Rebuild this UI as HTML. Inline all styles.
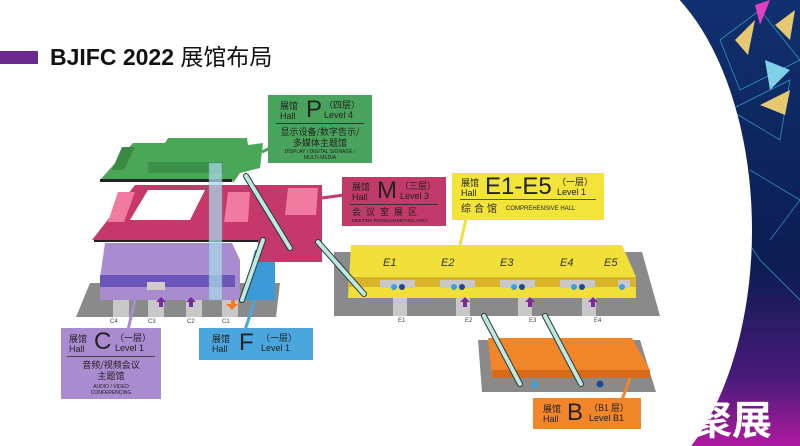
<!DOCTYPE html>
<html style="overflow:hidden;width:800px;height:446px"><head><meta charset="utf-8">
<style>
html,body{margin:0;width:800px;height:446px;overflow:hidden}
body{position:relative;background:#0b1a4a;font-family:"Liberation Sans","Noto Sans CJK SC",sans-serif}
.lab{position:absolute;color:#222;box-sizing:border-box;overflow:hidden}
.cn{font-family:"Noto Sans CJK SC","WenQuanYi Zen Hei",sans-serif}
.s{position:absolute;line-height:1;white-space:nowrap}
</style></head><body>
<svg width="800" height="446" style="position:absolute;left:0;top:0;overflow:hidden">
<defs>
<linearGradient id="bg" x1="0" y1="0" x2="0" y2="1">
<stop offset="0" stop-color="#10306e"/><stop offset="0.6" stop-color="#0c1d52"/><stop offset="0.85" stop-color="#4a1a7a"/><stop offset="1" stop-color="#b01aa0"/></linearGradient>
</defs>
<rect x="600" y="0" width="200" height="446" fill="url(#bg)"/>
<g stroke="#3ac0e8" stroke-width="0.8" opacity="0.7" fill="none">
<path d="M720 40 L760 10 L800 60 L740 90 Z M730 110 L790 80 L780 140 Z M750 170 L800 200 L770 240 M720 200 L760 260 L800 300"/>
</g>
<polygon points="735,40 755,20 748,55" fill="#e6c870"/>
<polygon points="775,25 795,10 790,40" fill="#e6c870"/>
<polygon points="760,105 790,90 785,115" fill="#e6c870"/>
<polygon points="765,60 790,70 770,90" fill="#7fd0e8"/>
<polygon points="755,5 770,0 760,25" fill="#e040c0"/>
<rect x="0" y="0" width="600" height="446" fill="#fff"/>
<ellipse cx="600" cy="230" rx="152" ry="270" fill="#fff"/>
<rect x="0" y="51" width="38" height="13" fill="#6a2a8e"/>
<polygon points="90,283 280,283 276,317 76,317" fill="#8a8a8a"/>
<polygon points="334,252 642,252 660,316 334,316" fill="#8a8a8a"/>
<polygon points="478,340 640,340 656,392 482,392" fill="#8a8a8a"/>
<g fill="#c8c8c8"><rect x="113" y="300" width="16" height="17"/><rect x="148" y="300" width="16" height="17"/><rect x="186" y="300" width="16" height="17"/><rect x="222" y="300" width="16" height="17"/>
<rect x="393" y="298" width="14" height="18"/><rect x="456" y="298" width="14" height="18"/><rect x="518" y="298" width="14" height="18"/><rect x="582" y="298" width="14" height="18"/></g>
<polygon points="105,243 232,243 240,260 240,300 100,300 100,278" fill="#a98bd0"/>
<rect x="100" y="275" width="135" height="12" fill="#6a55b8"/>
<rect x="147" y="282" width="18" height="8" fill="#ccc"/>
<polygon points="255,250 275,250 275,300 242,300" fill="#3c9ad8"/>
<polygon points="135,185 322,185 322,262 258,262 258,240 92,240" fill="#c4386a"/>
<polygon points="148,190 205,190 190,220 130,220" fill="#fff"/>
<rect x="94" y="240" width="164" height="2" fill="#222"/>
<g fill="#f07aa0"><polygon points="118,192 135,192 124,222 108,222"/><polygon points="228,192 250,192 248,222 224,222"/><polygon points="288,188 318,188 316,215 285,215"/></g>
<polygon points="100,180 133,143 165,143 168,138 247,138 248,145 263,143 260,168 240,173 233,183 232,180" fill="#4aa758"/>
<rect x="100" y="179" width="132" height="3" fill="#222"/>
<rect x="148" y="162" width="75" height="11" fill="#3a9048"/>
<polygon points="122,147 135,147 124,170 112,170" fill="#3a8a44"/>
<polygon points="351,245 622,245 636,277 636,298 348,298" fill="#f2e03a"/>
<rect x="348" y="277" width="288" height="10" fill="#d9b42a"/>
<g fill="#c8c8c8"><rect x="380" y="280" width="35" height="8"/><rect x="440" y="280" width="35" height="8"/><rect x="500" y="280" width="35" height="8"/><rect x="560" y="280" width="35" height="8"/><rect x="618" y="280" width="12" height="8"/></g>
<polygon points="488,338 632,338 650,370 650,378 492,378" fill="#f0852a"/>
<rect x="492" y="370" width="158" height="8" fill="#d86a1a"/>
<rect x="209" y="163" width="13" height="137" fill="#a8d8e8" opacity="0.75" stroke="#8ab" stroke-width="0.5"/>
<g stroke="#2a3a3a" stroke-width="6" stroke-linecap="round"><line x1="246" y1="176" x2="290" y2="248"/><line x1="318" y1="242" x2="364" y2="294"/><line x1="263" y1="240" x2="242" y2="300"/><line x1="484" y1="316" x2="520" y2="384"/><line x1="545" y1="316" x2="581" y2="384"/></g>
<g stroke="#bfe8e0" stroke-width="4" stroke-linecap="round"><line x1="246" y1="176" x2="290" y2="248"/><line x1="318" y1="242" x2="364" y2="294"/><line x1="263" y1="240" x2="242" y2="300"/><line x1="484" y1="316" x2="520" y2="384"/><line x1="545" y1="316" x2="581" y2="384"/></g>
<g fill="#7a2a9a"><polygon points="156,302 161,297 166,302 163,302 163,307 159,307 159,302"/><polygon points="186,302 191,297 196,302 193,302 193,307 189,307 189,302"/><polygon points="460,302 465,297 470,302 467,302 467,307 463,307 463,302"/><polygon points="525,302 530,297 535,302 532,302 532,307 528,307 528,302"/><polygon points="588,302 593,297 598,302 595,302 595,307 591,307 591,302"/></g>
<polygon points="226,304 231,304 231,300 235,300 235,304 238,304 232,310" fill="#f07a2a"/>
<g fill="#1a4a9a"><circle cx="402" cy="287" r="3"/><circle cx="462" cy="287" r="3"/><circle cx="522" cy="287" r="3"/><circle cx="582" cy="287" r="3"/><circle cx="600" cy="384" r="3.5"/></g>
<g fill="#3aa0e0"><circle cx="394" cy="287" r="3"/><circle cx="454" cy="287" r="3"/><circle cx="514" cy="287" r="3"/><circle cx="574" cy="287" r="3"/><circle cx="622" cy="287" r="3"/><rect x="532" y="381" width="5" height="7"/></g>
<g font-family="Liberation Sans" font-style="italic" font-size="11" fill="#333">
<text x="383" y="266">E1</text><text x="441" y="266">E2</text><text x="500" y="266">E3</text><text x="560" y="266">E4</text><text x="604" y="266">E5</text></g>
<g font-family="Liberation Sans" font-size="6" fill="#444">
<text x="110" y="323">C4</text><text x="148" y="323">C3</text><text x="187" y="323">C2</text><text x="222" y="323">C1</text>
<text x="398" y="322">E1</text><text x="465" y="322">E2</text><text x="529" y="322">E3</text><text x="594" y="322">E4</text></g>
<g stroke-width="3" fill="none"><line x1="262" y1="152" x2="270" y2="148" stroke="#4aa758"/><line x1="322" y1="198" x2="344" y2="195" stroke="#c4386a"/><line x1="466" y1="219" x2="460" y2="245" stroke="#f2e03a"/><line x1="135" y1="300" x2="128" y2="330" stroke="#a98bd0"/><line x1="255" y1="300" x2="245" y2="330" stroke="#4aa6dc"/><line x1="630" y1="378" x2="622" y2="400" stroke="#f0852a"/></g>
<text x="692" y="434" font-family="Noto Sans CJK SC,sans-serif" font-weight="bold" font-size="40" fill="#fff">聚展</text>
</svg>
<div class="s" style="left:50px;top:44px;font-size:23px;font-weight:bold;color:#111">BJIFC 2022 <span class="cn" style="font-weight:normal">展馆布局</span></div>

<div class="lab" style="left:268px;top:95px;width:104px;height:68px;background:#4aa35c">
<div class="s cn" style="left:12px;top:6px;font-size:9px;line-height:10px">展馆<br><span style="font-family:'Liberation Sans'">Hall</span></div>
<div class="s" style="left:38px;top:3px;font-size:24px">P</div>
<div class="s cn" style="left:56px;top:5px;font-size:9px;line-height:10px">（四层）<br><span style="font-family:'Liberation Sans'">Level 4</span></div>
<div style="position:absolute;left:8px;top:28px;width:88px;border-top:1px solid #333"></div>
<div class="s cn" style="left:0;width:104px;text-align:center;top:31px;font-size:9px;line-height:11px">显示设备/数字告示/<br>多媒体主题馆</div>
<div class="s" style="left:0;width:104px;text-align:center;top:54px;font-size:5px;line-height:6px">DISPLAY / DIGITAL SIGNAGE /<br>MULTI-MEDIA</div>
</div>
<div class="lab" style="left:342px;top:177px;width:104px;height:49px;background:#c23a6a">
<div class="s cn" style="left:10px;top:5px;font-size:9px;line-height:10px">展馆<br><span style="font-family:'Liberation Sans'">Hall</span></div>
<div class="s" style="left:35px;top:2px;font-size:24px">M</div>
<div class="s cn" style="left:58px;top:4px;font-size:9px;line-height:10px">（三层）<br><span style="font-family:'Liberation Sans'">Level 3</span></div>
<div style="position:absolute;left:8px;top:27px;width:88px;border-top:1px solid #333"></div>
<div class="s cn" style="left:10px;top:30px;font-size:9px;letter-spacing:5px">会议室展区</div>
<div class="s" style="left:10px;top:42px;font-size:4.5px">MEETING ROOM EXHIBITING AREA</div>
</div>
<div class="lab" style="left:452px;top:173px;width:152px;height:47px;background:#f3e43a">
<div class="s cn" style="left:9px;top:5px;font-size:9px;line-height:10px">展馆<br><span style="font-family:'Liberation Sans'">Hall</span></div>
<div class="s" style="left:33px;top:2px;font-size:24px">E1-E5</div>
<div class="s cn" style="left:105px;top:4px;font-size:9px;line-height:10px">（一层）<br><span style="font-family:'Liberation Sans'">Level 1</span></div>
<div style="position:absolute;left:8px;top:26px;width:136px;border-top:1px solid #555"></div>
<div class="s cn" style="left:9px;top:30px;font-size:10px;letter-spacing:3px">综合馆</div>
<div class="s" style="left:54px;top:33px;font-size:6px">COMPREHENSIVE HALL</div>
</div>
<div class="lab" style="left:61px;top:328px;width:100px;height:71px;background:#a98bd0">
<div class="s cn" style="left:8px;top:6px;font-size:9px;line-height:10px">展馆<br><span style="font-family:'Liberation Sans'">Hall</span></div>
<div class="s" style="left:33px;top:2px;font-size:24px">C</div>
<div class="s cn" style="left:54px;top:5px;font-size:9px;line-height:10px">（一层）<br><span style="font-family:'Liberation Sans'">Level 1</span></div>
<div style="position:absolute;left:6px;top:28px;width:88px;border-top:1px solid #444"></div>
<div class="s cn" style="left:0;width:100px;text-align:center;top:31px;font-size:9px;line-height:11px">音频/视频会议<br>主题馆</div>
<div class="s" style="left:0;width:100px;text-align:center;top:56px;font-size:5px;line-height:6px">AUDIO / VIDEO<br>CONFERENCING</div>
</div>
<div class="lab" style="left:199px;top:328px;width:114px;height:32px;background:#4aa6dc">
<div class="s cn" style="left:13px;top:6px;font-size:9px;line-height:10px">展馆<br><span style="font-family:'Liberation Sans'">Hall</span></div>
<div class="s" style="left:40px;top:3px;font-size:24px">F</div>
<div class="s cn" style="left:62px;top:5px;font-size:9px;line-height:10px">（一层）<br><span style="font-family:'Liberation Sans'">Level 1</span></div>
</div>
<div class="lab" style="left:533px;top:398px;width:108px;height:31px;background:#f0852a">
<div class="s cn" style="left:10px;top:6px;font-size:9px;line-height:10px">展馆<br><span style="font-family:'Liberation Sans'">Hall</span></div>
<div class="s" style="left:34px;top:3px;font-size:24px">B</div>
<div class="s cn" style="left:56px;top:5px;font-size:9px;line-height:10px">（B1 层）<br><span style="font-family:'Liberation Sans'">Level B1</span></div>
</div>
</body></html>
